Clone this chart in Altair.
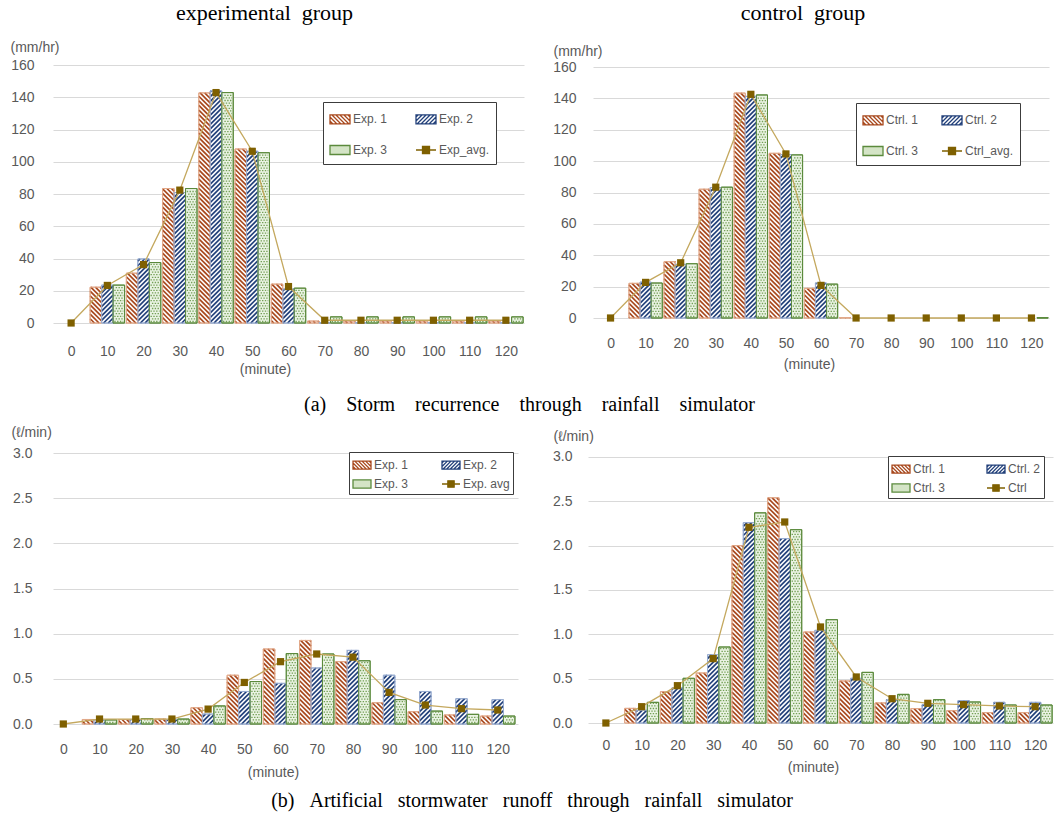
import math
import altair as alt
import pandas as pd

# ---------------- data ----------------
times = [0, 10, 20, 30, 40, 50, 60, 70, 80, 90, 100, 110, 120]

# (a) storm recurrence, mm/hr
exp_storm_1 = [0, 22.2, 30.9, 83.4, 142.7, 107.9, 24.1, 1.2, 1.2, 1.2, 1.2, 1.2, 1.2]
exp_storm_2 = [0, 23.5, 39.7, 80.9, 143.9, 106.5, 21.0, 0.3, 0.3, 0.3, 0.3, 0.3, 0.3]
exp_storm_3 = [0, 23.5, 37.5, 83.4, 142.9, 105.6, 21.6, 3.8, 3.8, 3.8, 3.8, 3.8, 3.8]
exp_storm_avg = [0, 23.3, 36.2, 82.4, 142.9, 106.5, 22.6, 1.7, 1.7, 1.7, 1.7, 1.7, 1.7]

ctrl_storm_1 = [0, 22.1, 35.9, 82.1, 143.4, 105.0, 18.9, 0.3, 0, 0, 0, 0, 0]
ctrl_storm_2 = [0, 22.9, 34.2, 83.2, 141.3, 104.2, 22.3, 0, 0, 0, 0, 0, 0]
ctrl_storm_3 = [0, 22.3, 34.6, 83.4, 142.2, 104.0, 21.6, 0, 0, 0, 0, 0, 0.2]
ctrl_storm_avg = [0, 22.7, 35.2, 83.4, 142.6, 104.6, 20.8, 0, 0, 0, 0, 0, 0]

# (b) artificial stormwater runoff, l/min
exp_run_1 = [0, 0.05, 0.05, 0.055, 0.18, 0.54, 0.83, 0.925, 0.69, 0.235, 0.136, 0.10, 0.088]
exp_run_2 = [0, 0.045, 0.05, 0.05, 0.11, 0.36, 0.45, 0.62, 0.815, 0.54, 0.36, 0.28, 0.27]
exp_run_3 = [0, 0.045, 0.06, 0.055, 0.20, 0.47, 0.78, 0.775, 0.70, 0.27, 0.143, 0.107, 0.088]
exp_run_avg = [0, 0.055, 0.055, 0.055, 0.165, 0.46, 0.69, 0.775, 0.74, 0.35, 0.21, 0.17, 0.155]

ctrl_run_1 = [0, 0.165, 0.353, 0.564, 2.00, 2.54, 1.026, 0.474, 0.226, 0.162, 0.139, 0.117, 0.117]
ctrl_run_2 = [0, 0.143, 0.395, 0.77, 2.26, 2.08, 1.045, 0.504, 0.26, 0.207, 0.252, 0.233, 0.233]
ctrl_run_3 = [0, 0.233, 0.504, 0.857, 2.37, 2.18, 1.165, 0.571, 0.323, 0.263, 0.237, 0.203, 0.203]
ctrl_run_avg = [0, 0.184, 0.421, 0.726, 2.207, 2.267, 1.083, 0.519, 0.274, 0.222, 0.207, 0.192, 0.184]

names_exp_a = ["Exp. 1", "Exp. 2", "Exp. 3", "Exp_avg."]
names_ctrl_a = ["Ctrl. 1", "Ctrl. 2", "Ctrl. 3", "Ctrl_avg."]
names_exp_b = ["Exp. 1", "Exp. 2", "Exp. 3", "Exp. avg"]
names_ctrl_b = ["Ctrl. 1", "Ctrl. 2", "Ctrl. 3", "Ctrl"]

storm_ticks = [0, 20, 40, 60, 80, 100, 120, 140, 160]
runoff_ticks = [0, 0.5, 1.0, 1.5, 2.0, 2.5, 3.0]

# ---------------- styling ----------------
SANS = "Liberation Sans, Arial, sans-serif"
SERIF = "Liberation Serif, Times New Roman, serif"
TXT = "#595959"
GRID = "#d9d9d9"
C1, C1_EDGE = "#a8481d", "#e2a98a"
C2, C2_EDGE = "#22407a", "#98acd0"
C3, C3_DOT, C3_FILL = "#5b8a3c", "#74a056", "#eaf3e3"
AVG_LINE, AVG_MARK = "#c4a85e", "#7f6000"

HALF = 4.75
BW = 2 * HALF / 3
PERIOD = 4.6  # hatch period in px


def build_tables(vals, W, H, xdom, ymax):
    xmin, xmax = xdom
    sx = W / (xmax - xmin)
    sy = H / ymax
    bars, hatch1, hatch2, dots = [], [], [], []
    for k, series in enumerate(vals):
        for t, v in zip(times, series):
            if v <= 0:
                continue
            x0 = t - HALF + k * BW
            x1 = x0 + BW
            bars.append(dict(x0=x0, x1=x1, v=v, zero=0, k=k))
            X0, X1, Y1 = (x0 - xmin) * sx, (x1 - xmin) * sx, v * sy
            if k == 0:  # "\\\" : x + y = c
                c = math.floor(X0 / PERIOD) * PERIOD
                while c < X1 + Y1:
                    xa, xb = max(X0, c - Y1), min(X1, c)
                    if xb > xa + 0.2:
                        hatch1.append(dict(xa=xa / sx + xmin, ya=(c - xa) / sy,
                                           xb=xb / sx + xmin, yb=(c - xb) / sy))
                    c += PERIOD
            elif k == 1:  # "///" : x - y = c
                c = math.floor((X0 - Y1) / PERIOD) * PERIOD
                while c < X1:
                    xa, xb = max(X0, c), min(X1, c + Y1)
                    if xb > xa + 0.2:
                        hatch2.append(dict(xa=xa / sx + xmin, ya=(xa - c) / sy,
                                           xb=xb / sx + xmin, yb=(xb - c) / sy))
                    c += PERIOD
            else:  # fine checker texture
                y, r = 1.5, 0
                while y < Y1 - 0.8:
                    dots.append(dict(xa=(X0 + 1.2) / sx + xmin, xb=(X1 - 1.2) / sx + xmin,
                                     ya=y / sy, row=r % 2))
                    y += 2.6
                    r += 1
    return (pd.DataFrame(bars), pd.DataFrame(hatch1), pd.DataFrame(hatch2),
            pd.DataFrame(dots))


def stripe_path(d):
    p = "M-1,-0.45H1V0.45H-1Z"
    u = -2.0
    while u < 2.0:
        lo, hi = 0.0, 1.0
        if d > 0:
            lo, hi = max(lo, (-1 - u) / d), min(hi, (1 - u) / d)
        else:
            lo, hi = max(lo, (1 - u) / d), min(hi, (-1 - u) / d)
        if hi - lo > 0.05:
            xa, ya = u + d * lo, -0.45 + 0.9 * lo
            xb, yb = u + d * hi, -0.45 + 0.9 * hi
            p += f"M{xa:.3f},{ya:.3f}L{xb:.3f},{yb:.3f}"
        u += 0.4
    return p


SHAPES = [stripe_path(0.9), stripe_path(-0.9), "M-1,-0.45H1V0.45H-1Z",
          "M-1,0H1M-0.35,-0.35H0.35V0.35H-0.35Z"]


def panel(vals, avg, names, W, H, xdom, ymax, ticks, yfmt, unit, unit_x, unit_y, ylabpad,
          xlabpad, xtitlepad, xtitle_x, lx, ly, lpad, rowpad, colpad, symsize,
          title=None, title_offset=10, title_dx=0):
    bars, h1, h2, dots = build_tables(vals, W, H, xdom, ymax)
    xs = alt.Scale(domain=list(xdom), nice=False, zero=False)
    ys = alt.Scale(domain=[0, ymax], nice=False, zero=True)
    xaxis = alt.Axis(values=times, title="(minute)", grid=False, domain=False, ticks=False,
                     labelPadding=xlabpad, titlePadding=xtitlepad, titleX=xtitle_x,
                     titleAlign="center", labelFlush=False)
    yaxis = alt.Axis(values=ticks, format=yfmt, grid=True, gridColor=GRID, gridWidth=1,
                     domain=False, ticks=False, labelPadding=ylabpad, title=unit, titleAngle=0,
                     titleX=unit_x, titleY=unit_y, titleAlign="left",
                     titleBaseline="middle")

    def X(f):
        return alt.X(f, type="quantitative", scale=xs, axis=xaxis)

    def Y(f):
        return alt.Y(f, type="quantitative", scale=ys, axis=yaxis)

    base = alt.Chart(bars)
    fills = [("white", C1_EDGE), ("white", C2_EDGE), (C3_FILL, C3)]
    layers = []
    for k, (fc, sc) in enumerate(fills):
        layers.append(base.transform_filter(alt.datum.k == k).mark_bar(
            fill=fc, stroke=sc, strokeWidth=1).encode(
            x=X("x0"), x2="x1", y=Y("v"), y2="zero"))
    for df, col in ((h1, C1), (h2, C2)):
        layers.append(alt.Chart(df).mark_rule(stroke=col, strokeWidth=1.7, strokeCap="butt").encode(
            x=X("xa"), x2="xb", y=Y("ya"), y2="yb"))
    for r in (0, 1):
        layers.append(alt.Chart(dots).transform_filter(alt.datum.row == r).mark_rule(
            stroke=C3_DOT, strokeWidth=1.3, strokeDash=[1.4, 1.4],
            strokeDashOffset=1.4 * r).encode(x=X("xa"), x2="xb", y=Y("ya")))
    for k, sc in enumerate([C1_EDGE, C2_EDGE, C3]):
        layers.append(base.transform_filter(alt.datum.k == k).mark_bar(
            fill="transparent", stroke=sc, strokeWidth=1).encode(
            x=X("x0"), x2="x1", y=Y("v"), y2="zero"))
    line_df = pd.DataFrame({"t": times, "avg": avg})
    layers.append(alt.Chart(line_df).mark_line(color=AVG_LINE, strokeWidth=1.3).encode(
        x=X("t"), y=Y("avg")))
    layers.append(alt.Chart(line_df).mark_square(size=52, color=AVG_MARK, opacity=1).encode(
        x=X("t"), y=Y("avg")))

    leg = alt.Legend(title=None, orient="none", legendX=lx, legendY=ly, columns=2,
                     direction="horizontal",
                     symbolSize=symsize, symbolStrokeWidth=1.3, labelFont=SANS,
                     labelFontSize=12, labelColor=TXT, labelOffset=2,
                     strokeColor="#3c3c3c", fillColor="white",
                     padding=lpad, rowPadding=rowpad, columnPadding=colpad, symbolOpacity=1)
    leg_df = pd.DataFrame({"s": names})
    layers.append(alt.Chart(leg_df).mark_point(filled=True, opacity=1, clip=True, strokeWidth=1.3).encode(
        x=alt.value(-400), y=alt.value(-400),
        fill=alt.Fill("s:N", scale=alt.Scale(domain=names, range=["white", "white", "#d4e4c6", AVG_MARK]), legend=leg),
        stroke=alt.Stroke("s:N", scale=alt.Scale(domain=names, range=[C1, C2, C3, AVG_MARK]), legend=leg),
        shape=alt.Shape("s:N", scale=alt.Scale(domain=names, range=SHAPES), legend=leg)))

    props = dict(width=W, height=H)
    if title:
        props["title"] = alt.TitleParams(title, font=SERIF, fontSize=22, fontWeight="normal",
                                         color="black", anchor="middle", frame="group",
                                         dx=title_dx, offset=title_offset)
    return alt.layer(*layers).properties(**props)


NB = "\u00a0"

tl = panel([exp_storm_1, exp_storm_2, exp_storm_3], exp_storm_avg, names_exp_a,
           471, 258, (-5, 125), 160, storm_ticks, "d", "(mm/hr)", -43, -18, 19,
           21, 4, 212,
           270, 37, 6, 12, 25, 400,
           title="experimental" + NB + NB + "group", title_offset=15, title_dx=-24)
tr = panel([ctrl_storm_1, ctrl_storm_2, ctrl_storm_3], ctrl_storm_avg, names_ctrl_a,
           456, 253, (-5, 125), 161.3, storm_ticks, "d", "(mm/hr)", -40, -14, 17,
           18, 7, 216,
           263, 38, 6, 12, 20, 400,
           title="control" + NB + NB + "group", title_offset=19, title_dx=-18)
bl = panel([exp_run_1, exp_run_2, exp_run_3], exp_run_avg, names_exp_b,
           465, 271, (-2.85, 125.6), 3.0, runoff_ticks, ".1f", "(ℓ/min)", -42, -21, 21,
           18, 9, 220,
           296, -1, 3, 2, 30, 324)
br = panel([ctrl_run_1, ctrl_run_2, ctrl_run_3], ctrl_run_avg, names_ctrl_b,
           465, 270, (-5, 125), 3.045, runoff_ticks, ".1f", "(ℓ/min)", -35, -17, 16,
           15, 8, 225,
           300, 3, 3, 2, 38, 324)


def gap(words, n):
    return (NB * n).join(words)


cap_a = gap(["(a)", "Storm", "recurrence", "through", "rainfall", "simulator"], 4)
cap_b = gap(["(b)", "Artificial", "stormwater", "runoff", "through", "rainfall", "simulator"], 3)

res_s = dict(x="independent", y="independent", fill="independent",
             stroke="independent", shape="independent")
res_l = dict(fill="independent", stroke="independent", shape="independent")

row1 = alt.hconcat(tl, tr, spacing=69, bounds="flush").resolve_scale(**res_s).resolve_legend(**res_l).properties(
    title=alt.TitleParams(cap_a, orient="bottom", anchor="middle", font=SERIF, fontSize=20,
                          fontWeight="normal", color="black", offset=19))
row2 = alt.hconcat(bl, br, spacing=70, bounds="flush").resolve_scale(**res_s).resolve_legend(**res_l).properties(
    title=alt.TitleParams(cap_b, orient="bottom", anchor="middle", font=SERIF, fontSize=20,
                          fontWeight="normal", color="black", offset=12))

chart = alt.vconcat(row1, row2, spacing=10).resolve_scale(**res_s).resolve_legend(**res_l).properties(
    padding={"left": 10, "top": 2, "right": 5, "bottom": 5}
).configure_view(stroke=None).configure_axis(
    labelFont=SANS, labelFontSize=14, labelColor=TXT,
    titleFont=SANS, titleFontSize=14, titleColor=TXT, titleFontWeight="normal"
)

chart.save("out.html", embed_options={"renderer": "svg", "actions": False})
